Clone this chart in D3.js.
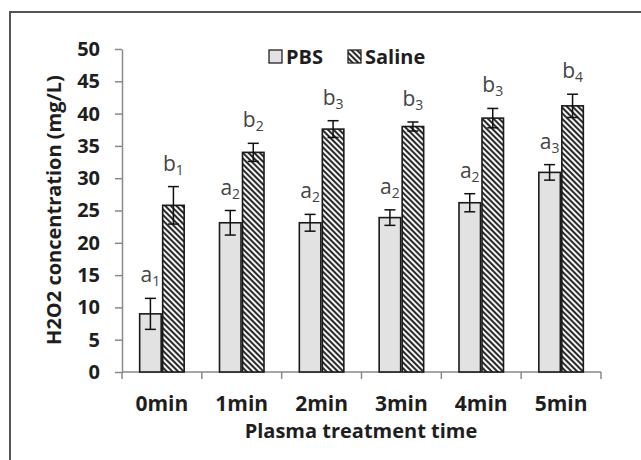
<!DOCTYPE html>
<html><head><meta charset="utf-8">
<script src="https://cdn.jsdelivr.net/npm/d3@7"></script>
<style>body{margin:0;background:#fff}svg{display:block}</style>
</head><body>
<script>
const categories = ["0min","1min","2min","3min","4min","5min"];
const seriesNames = ["PBS","Saline"];
const pbsValues = [9.0, 23.1, 23.1, 23.9, 26.2, 30.9];
const pbsErrors = [2.4, 1.9, 1.3, 1.2, 1.4, 1.2];
const salineValues = [25.8, 34.0, 37.6, 38.0, 39.3, 41.2];
const salineErrors = [2.9, 1.4, 1.3, 0.7, 1.5, 1.8];
const pbsLetters = [["a","1"],["a","2"],["a","2"],["a","2"],["a","2"],["a","3"]];
const salineLetters = [["b","1"],["b","2"],["b","3"],["b","3"],["b","3"],["b","4"]];
const yTicks = [0,5,10,15,20,25,30,35,40,45,50];

const W = 641, H = 460;
const font = "'Open Sans', sans-serif";
const svg = d3.select("body").append("svg").attr("width", W).attr("height", H);

const defs = svg.append("defs");
const pat = defs.append("pattern").attr("id","hatch").attr("patternUnits","userSpaceOnUse")
  .attr("width",4).attr("height",4).attr("patternTransform","rotate(-45)");
pat.append("rect").attr("width",4).attr("height",4).attr("fill","#f4f4f4");
pat.append("rect").attr("x",0).attr("y",0).attr("width",2).attr("height",4).attr("fill","#2a2a2a");

// outer frame
svg.append("path").attr("d","M10,460 L10,12 L641,12").attr("fill","none").attr("stroke","#555").attr("stroke-width",2);

const x0 = d3.scaleBand().domain(categories).range([122, 601]).paddingInner(0).paddingOuter(0);
const x1 = d3.scaleBand().domain(seriesNames).range([0, 46]);
const y = d3.scaleLinear().domain([0,50]).range([372, 49]);

// y axis
const yAxis = svg.append("g").attr("transform","translate(122,0)")
  .call(d3.axisLeft(y).tickValues(yTicks).tickSizeInner(7).tickSizeOuter(0).tickPadding(15));
yAxis.select(".domain").attr("stroke","#8a8a8a").attr("stroke-width",1.5);
yAxis.selectAll(".tick line").attr("stroke","#8a8a8a").attr("stroke-width",1.5);
yAxis.selectAll(".tick text").attr("font-family",font).attr("font-weight","bold").attr("font-size","20px").attr("fill","#1e1e1e");

// x axis
const xAxisG = svg.append("g").attr("transform","translate(0,372)");
xAxisG.append("line").attr("x1",122).attr("x2",601).attr("y1",0).attr("y2",0).attr("stroke","#8a8a8a").attr("stroke-width",1.5);
const bounds = categories.map(c => x0(c)).concat([x0(categories[categories.length-1]) + x0.bandwidth()]);
xAxisG.selectAll("line.tk").data(bounds).enter().append("line").attr("class","tk")
  .attr("x1",d=>d).attr("x2",d=>d).attr("y1",0).attr("y2",7).attr("stroke","#8a8a8a").attr("stroke-width",1.5);
xAxisG.selectAll("text").data(categories).enter().append("text")
  .attr("x",d=>x0(d)+x0.bandwidth()/2).attr("y",39).attr("text-anchor","middle")
  .attr("font-family",font).attr("font-weight","bold").attr("font-size","21px").attr("fill","#1e1e1e").text(d=>d);

// bars
const barW = 23;
const groups = svg.append("g").selectAll("g").data(categories).enter().append("g")
  .attr("transform", d => `translate(${x0(d) + (x0.bandwidth()-46)/2},0)`);
const series = [
  {name:"PBS", vals:pbsValues, errs:pbsErrors, letters:pbsLetters, fill:"#e2e2e2"},
  {name:"Saline", vals:salineValues, errs:salineErrors, letters:salineLetters, fill:"url(#hatch)"}
];
groups.each(function(c, i){
  const g = d3.select(this);
  series.forEach(s => {
    const bx = x1(s.name);
    const v = s.vals[i], e = s.errs[i];
    g.append("rect").attr("x",bx+0.75).attr("y",y(v)).attr("width",barW-1.5).attr("height",y(0)-y(v))
      .attr("fill",s.fill).attr("stroke","#1a1a1a").attr("stroke-width",1.6);
    const cx = bx + barW/2;
    g.append("line").attr("x1",cx).attr("x2",cx).attr("y1",y(v+e)).attr("y2",y(v-e)).attr("stroke","#111").attr("stroke-width",1.5);
    g.append("line").attr("x1",cx-5.5).attr("x2",cx+5.5).attr("y1",y(v+e)).attr("y2",y(v+e)).attr("stroke","#111").attr("stroke-width",1.5);
    g.append("line").attr("x1",cx-5.5).attr("x2",cx+5.5).attr("y1",y(v-e)).attr("y2",y(v-e)).attr("stroke","#111").attr("stroke-width",1.5);
    const t = g.append("text").attr("x",cx).attr("y",y(v+e)-16).attr("text-anchor","middle")
      .attr("font-family",font).attr("font-size","21px").attr("fill","#444");
    t.append("tspan").text(s.letters[i][0]);
    t.append("tspan").attr("font-size","14px").attr("dy",4).text(s.letters[i][1]);
  });
});

// legend
const leg = svg.append("g");
const legItems = [{name:"PBS", fill:"#e2e2e2", x:269},{name:"Saline", fill:"url(#hatch)", x:348}];
legItems.forEach(l => {
  leg.append("rect").attr("x",l.x).attr("y",50).attr("width",13).attr("height",13)
    .attr("fill",l.fill).attr("stroke","#222").attr("stroke-width",1.3);
  leg.append("text").attr("x",l.x+17).attr("y",64).attr("font-family",font).attr("font-weight","bold")
    .attr("font-size","20px").attr("fill","#1e1e1e").text(l.name);
});

// axis titles
svg.append("text").attr("transform","translate(61,210) rotate(-90)").attr("text-anchor","middle")
  .attr("font-family",font).attr("font-weight","bold").attr("font-size","20px").attr("fill","#1e1e1e")
  .text("H2O2 concentration (mg/L)");
svg.append("text").attr("x",361).attr("y",438).attr("text-anchor","middle")
  .attr("font-family",font).attr("font-weight","bold").attr("font-size","20px").attr("fill","#1e1e1e")
  .text("Plasma treatment time");
</script>
</body></html>
